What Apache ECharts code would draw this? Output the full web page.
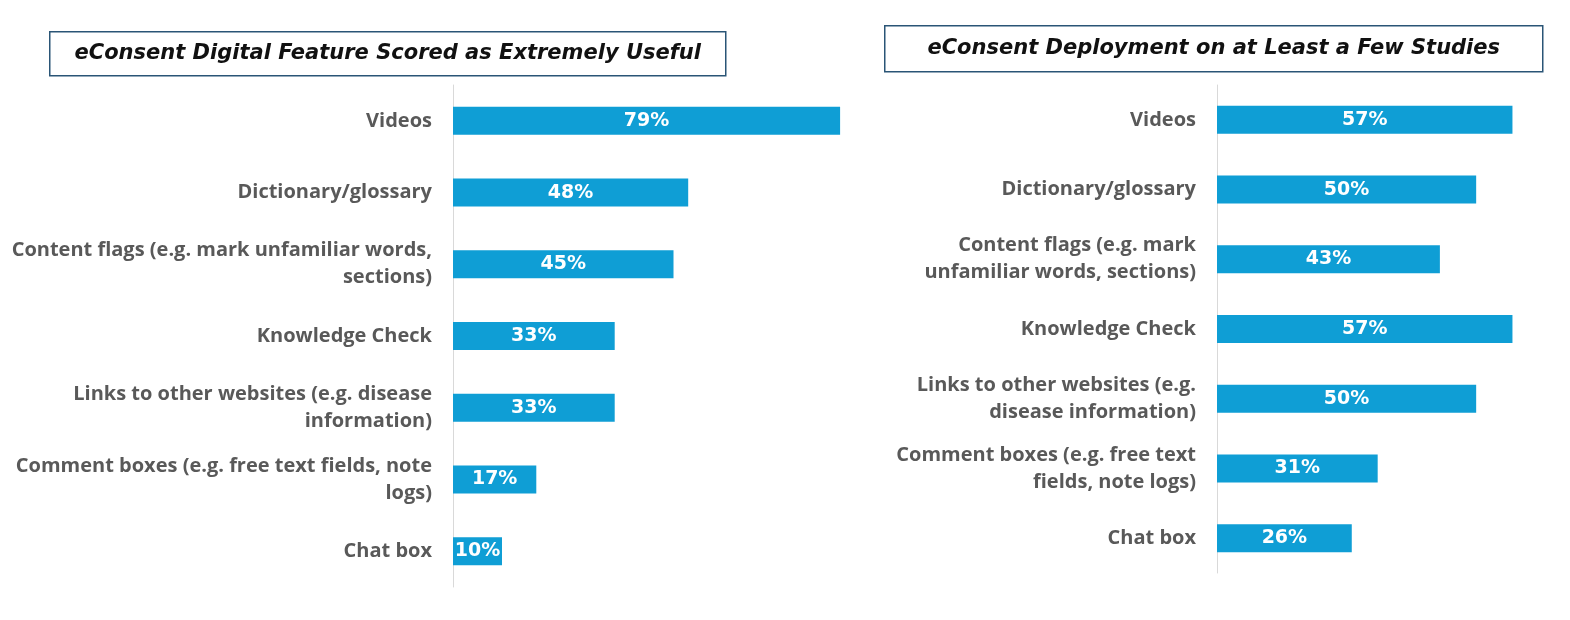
<!DOCTYPE html>
<html>
<head>
<meta charset="utf-8">
<script src="https://cdn.jsdelivr.net/npm/echarts@6/dist/echarts.min.js"></script>
<style>
html,body{margin:0;padding:0;background:#fff;}
#c{width:1570px;height:620px;}
</style>
</head>
<body>
<div id="c"></div>
<script>
const leftTitle = 'eConsent Digital Feature Scored as Extremely Useful';
const rightTitle = 'eConsent Deployment on at Least a Few Studies';
const leftCategories = [
  'Videos',
  'Dictionary/glossary',
  'Content flags (e.g. mark unfamiliar words,\nsections)',
  'Knowledge Check',
  'Links to other websites (e.g. disease\ninformation)',
  'Comment boxes (e.g. free text fields, note\nlogs)',
  'Chat box'
];
const leftValues = [79, 48, 45, 33, 33, 17, 10];
const rightCategories = [
  'Videos',
  'Dictionary/glossary',
  'Content flags (e.g. mark\nunfamiliar words, sections)',
  'Knowledge Check',
  'Links to other websites (e.g.\ndisease information)',
  'Comment boxes (e.g. free text\nfields, note logs)',
  'Chat box'
];
const rightValues = [57, 50, 43, 57, 50, 31, 26];

const BAR = '#0F9ED5';
const LABEL = '#595959';
const catFont = '"Open Sans"';
const valFont = '"DejaVu Sans"';

const chart = echarts.init(document.getElementById('c'), null, {renderer: 'canvas'});

function yAxis(idx, cats) {
  return {
    type: 'category', gridIndex: idx, data: cats, inverse: true,
    axisLine: {show: true, lineStyle: {color: '#d9d9d9', width: 1}},
    axisTick: {show: false},
    axisLabel: {
      margin: 21, color: LABEL, fontFamily: catFont, fontWeight: 'bold',
      fontSize: 20, lineHeight: 27, align: 'right'
    }
  };
}
function xAxis(idx, max) {
  return {
    type: 'value', gridIndex: idx, min: 0, max: max,
    show: false, splitLine: {show: false}
  };
}
function series(idx, vals) {
  return {
    type: 'bar', xAxisIndex: idx, yAxisIndex: idx, data: vals,
    barWidth: 28, itemStyle: {color: BAR},
    label: {
      show: true, position: 'inside', formatter: '{c}%',
      color: '#fff', fontFamily: valFont, fontWeight: 'bold', fontSize: 19
    },
    silent: true
  };
}
function titleBox(x, y, w, h, text) {
  return {
    type: 'group', left: x, top: y,
    children: [
      {type: 'rect', shape: {x: 0, y: 0, width: w, height: h},
       style: {fill: '#fff', stroke: '#2a5576', lineWidth: 1.5}},
      {type: 'text', x: w / 2, y: h / 2,
       style: {text: text, fill: '#111', font: 'italic bold 21px "DejaVu Sans"',
               textAlign: 'center', textVerticalAlign: 'middle'}}
    ]
  };
}

chart.setOption({
  animation: false,
  backgroundColor: '#fff',
  grid: [
    {left: 453, top: 85, width: 490, height: 502},
    {left: 1217, top: 85, width: 311, height: 488}
  ],
  xAxis: [xAxis(0, 100), xAxis(1, 60)],
  yAxis: [yAxis(0, leftCategories), yAxis(1, rightCategories)],
  series: [series(0, leftValues), series(1, rightValues)],
  graphic: [
    titleBox(49, 31, 676, 44, leftTitle),
    titleBox(884, 25, 658, 46, rightTitle)
  ]
});
</script>
</body>
</html>
